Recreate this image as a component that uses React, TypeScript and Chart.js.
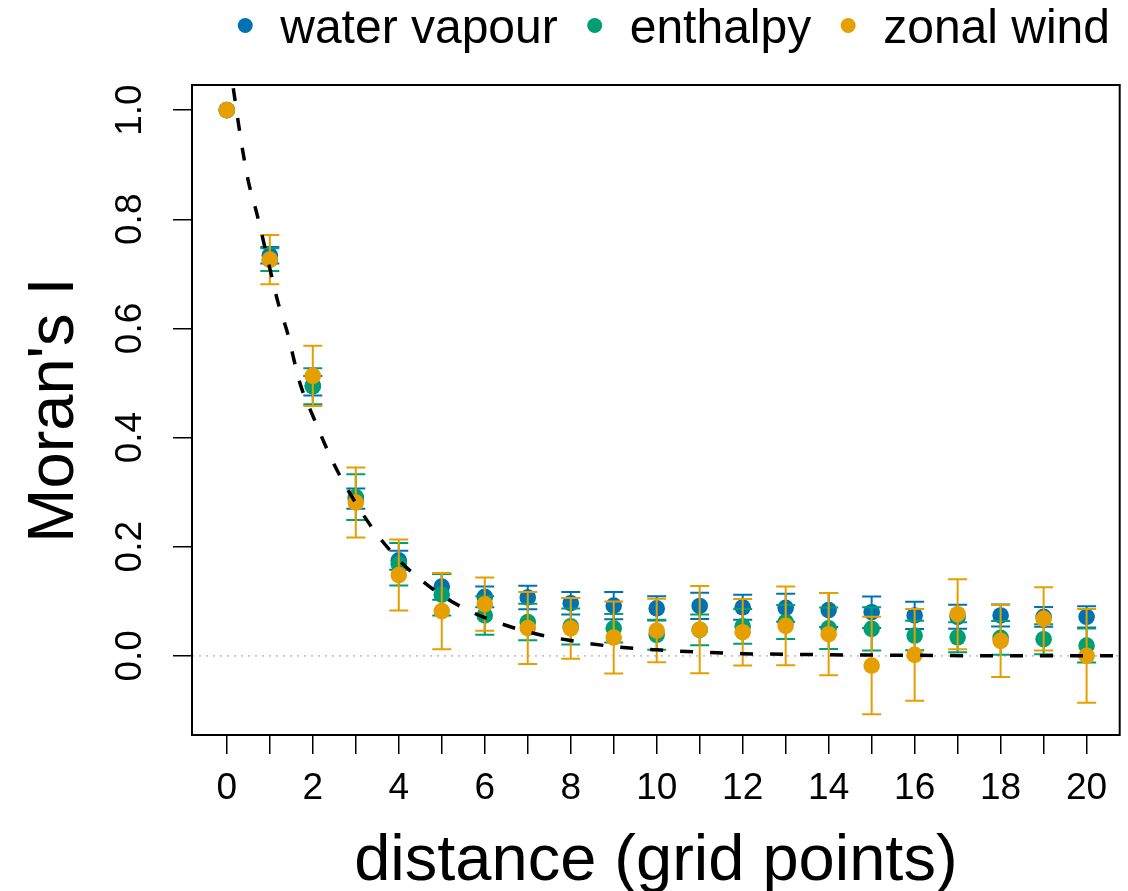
import React, { useEffect, useRef } from "react";
import { Chart, registerables } from "chart.js";

Chart.register(...registerables);

// Lag distance in grid points
const distances = [0, 1, 2, 3, 4, 5, 6, 7, 8, 9, 10, 11, 12, 13, 14, 15, 16, 17, 18, 19, 20];

// Moran's I per variable, with the half-width of each error bar
const waterVapour = [1.0, 0.734, 0.495, 0.288, 0.175, 0.127, 0.108, 0.107, 0.0965, 0.092, 0.087, 0.0915, 0.089, 0.088, 0.084, 0.08, 0.074, 0.0715, 0.074, 0.0715, 0.0715];
const waterVapourErr = [0, 0.015, 0.018, 0.0185, 0.0174, 0.024, 0.019, 0.0217, 0.0207, 0.025, 0.0223, 0.024, 0.023, 0.0256, 0.031, 0.029, 0.025, 0.022, 0.02, 0.018, 0.0195];

const enthalpy = [1.0, 0.726, 0.494, 0.291, 0.168, 0.112, 0.074, 0.062, 0.054, 0.0505, 0.0385, 0.0476, 0.054, 0.062, 0.0505, 0.0495, 0.0372, 0.034, 0.033, 0.0305, 0.019];
const enthalpyErr = [0, 0.021, 0.033, 0.042, 0.039, 0.038, 0.0354, 0.0333, 0.033, 0.026, 0.0275, 0.028, 0.032, 0.031, 0.038, 0.0397, 0.027, 0.0275, 0.031, 0.0275, 0.031];

const zonalWind = [1.0, 0.726, 0.513, 0.281, 0.148, 0.082, 0.0946, 0.051, 0.0505, 0.0336, 0.0464, 0.048, 0.0433, 0.055, 0.0397, -0.0177, 0.0018, 0.0763, 0.0275, 0.0678, 0.0];
const zonalWindErr = [0, 0.045, 0.055, 0.064, 0.065, 0.07, 0.0488, 0.066, 0.0556, 0.066, 0.0583, 0.08, 0.061, 0.072, 0.0754, 0.0894, 0.084, 0.064, 0.066, 0.058, 0.086];

// Fitted exponential decay curve (dashed)
const fitDistance = [0.15, 0.35, 0.5, 0.7, 1, 1.2, 1.4, 1.7, 2, 2.5, 3, 3.5, 4, 4.5, 5, 5.5, 6, 7, 8, 9, 10, 11, 12, 13, 14, 16, 18, 20.77];
const fitMoran = [1.04, 0.935, 0.87, 0.81, 0.71, 0.645, 0.595, 0.5, 0.44, 0.35, 0.28, 0.222, 0.176, 0.14, 0.111, 0.088, 0.07, 0.044, 0.028, 0.017, 0.011, 0.007, 0.004, 0.003, 0.002, 0.001, 0.0, 0.0];

// Axis ticks
const xTicks = [0, 1, 2, 3, 4, 5, 6, 7, 8, 9, 10, 11, 12, 13, 14, 15, 16, 17, 18, 19, 20];
const xLabelStep = 2;
const yTicks = [0, 0.2, 0.4, 0.6, 0.8, 1.0];

const X_MIN = -0.81;
const X_MAX = 20.77;
const Y_MIN = -0.145;
const Y_MAX = 1.046;

const BLUE = "#0072B2";
const GREEN = "#009E73";
const ORANGE = "#E69F00";
const FONT = "'Liberation Sans', Arial, Helvetica, sans-serif";

const toPoints = (xs: number[], ys: number[]) => xs.map((x, i) => ({ x, y: ys[i] }));

// Vertical error bars with caps, drawn just beneath each series' points
const errorBarsPlugin = {
  id: "errorBars",
  beforeDatasetDraw(chart: any, args: any) {
    const ds = chart.data.datasets[args.index];
    if (!ds.errors) return;
    const xs = chart.scales.x;
    const ys = chart.scales.y;
    const ctx = chart.ctx;
    ctx.save();
    ctx.strokeStyle = ds.backgroundColor;
    ctx.lineWidth = 2;
    ctx.lineCap = "butt";
    ds.data.forEach((p: any, i: number) => {
      const e = ds.errors[i];
      if (!e) return;
      const px = xs.getPixelForValue(p.x);
      const top = ys.getPixelForValue(p.y + e);
      const bot = ys.getPixelForValue(p.y - e);
      const cap = 9.5;
      ctx.beginPath();
      ctx.moveTo(px, top);
      ctx.lineTo(px, bot);
      ctx.moveTo(px - cap, top);
      ctx.lineTo(px + cap, top);
      ctx.moveTo(px - cap, bot);
      ctx.lineTo(px + cap, bot);
      ctx.stroke();
    });
    ctx.restore();
  },
};

// Plot frame, axis titles and the horizontal legend
const framePlugin = {
  id: "frame",
  afterDraw(chart: any) {
    const { ctx, chartArea } = chart;
    const { left, right, top, bottom } = chartArea;
    ctx.save();
    ctx.strokeStyle = "#000";
    ctx.lineWidth = 2;
    ctx.strokeRect(left, top, right - left, bottom - top);

    ctx.fillStyle = "#000";
    ctx.font = `65px ${FONT}`;
    ctx.textAlign = "center";
    ctx.textBaseline = "alphabetic";
    ctx.fillText("distance (grid points)", (left + right) / 2, 880);

    ctx.save();
    ctx.translate(73, (top + bottom) / 2);
    ctx.rotate(-Math.PI / 2);
    ctx.fillText("Moran's I", 0, 0);
    ctx.restore();

    // legend, right aligned
    ctx.font = `48px ${FONT}`;
    ctx.textAlign = "left";
    const series = chart.data.datasets.filter((d: any) => d.errors);
    const dotGap = 35;
    const itemGap = 37;
    let x = 1110;
    const placed: { label: string; color: string; tx: number; dx: number }[] = [];
    for (let i = series.length - 1; i >= 0; i--) {
      const w = ctx.measureText(series[i].label).width;
      const tx = x - w;
      const dx = tx - dotGap;
      placed.push({ label: series[i].label, color: series[i].backgroundColor, tx, dx });
      x = dx - itemGap;
    }
    placed.forEach((p) => {
      ctx.fillStyle = p.color;
      ctx.beginPath();
      ctx.arc(p.dx, 25.5, 7.5, 0, Math.PI * 2);
      ctx.fill();
      ctx.fillStyle = "#000";
      ctx.fillText(p.label, p.tx, 43);
    });
    ctx.restore();
  },
};

export default function App() {
  const canvasRef = useRef<HTMLCanvasElement | null>(null);

  useEffect(() => {
    if (!canvasRef.current) return;
    const seriesDataset = (label: string, ys: number[], errs: number[], color: string, order: number) => ({
      type: "scatter" as const,
      label,
      data: toPoints(distances, ys),
      errors: errs,
      backgroundColor: color,
      borderColor: color,
      pointRadius: 8.3,
      pointBorderWidth: 0,
      pointHoverRadius: 8.3,
      showLine: false,
      order,
    });

    const chart = new Chart(canvasRef.current, {
      type: "scatter",
      data: {
        datasets: [
          {
            type: "line",
            label: "fit",
            data: toPoints(fitDistance, fitMoran),
            borderColor: "#000",
            borderWidth: 3.5,
            borderDash: [13, 17],
            pointRadius: 0,
            fill: false,
            cubicInterpolationMode: "monotone",
            order: 0,
          } as any,
          seriesDataset("water vapour", waterVapour, waterVapourErr, BLUE, 3),
          seriesDataset("enthalpy", enthalpy, enthalpyErr, GREEN, 2),
          seriesDataset("zonal wind", zonalWind, zonalWindErr, ORANGE, 1),
          {
            type: "line",
            label: "zero",
            data: [
              { x: X_MIN, y: 0 },
              { x: X_MAX, y: 0 },
            ],
            borderColor: "#c4c4c4",
            borderWidth: 1.8,
            borderDash: [2, 5],
            pointRadius: 0,
            fill: false,
            order: 10,
          } as any,
        ],
      },
      options: {
        animation: false,
        responsive: false,
        events: [],
        layout: { padding: { top: 85, right: 4, bottom: 0, left: 0 } },
        plugins: {
          legend: { display: false },
          tooltip: { enabled: false },
          title: { display: false },
        },
        scales: {
          x: {
            type: "linear",
            min: X_MIN,
            max: X_MAX,
            afterBuildTicks: (scale: any) => {
              scale.ticks = xTicks.map((value) => ({ value }));
            },
            afterFit: (scale: any) => {
              scale.height = 156;
            },
            ticks: {
              font: { family: FONT, size: 37 },
              color: "#000",
              padding: 13,
              maxRotation: 0,
              minRotation: 0,
              autoSkip: false,
              callback: (v: any) => (Number(v) % xLabelStep === 0 ? String(v) : ""),
            },
            grid: {
              display: true,
              drawOnChartArea: false,
              drawTicks: true,
              tickLength: 19,
              color: "#000",
              lineWidth: 1.5,
            },
            border: { display: false },
          },
          y: {
            type: "linear",
            min: Y_MIN,
            max: Y_MAX,
            afterBuildTicks: (scale: any) => {
              scale.ticks = yTicks.map((value) => ({ value }));
            },
            afterFit: (scale: any) => {
              scale.width = 192;
            },
            ticks: {
              font: { family: FONT, size: 37 },
              color: "#000",
              padding: 16,
              minRotation: 90,
              maxRotation: 90,
              crossAlign: "center",
              autoSkip: false,
              callback: (v: any) => Number(v).toFixed(1),
            },
            grid: {
              display: true,
              drawOnChartArea: false,
              drawTicks: true,
              tickLength: 19,
              color: "#000",
              lineWidth: 1.5,
            },
            border: { display: false },
          },
        },
      } as any,
      plugins: [errorBarsPlugin, framePlugin],
    });

    return () => chart.destroy();
  }, []);

  return (
    <div style={{ position: "absolute", left: 0, top: 0, width: 1128, height: 891, background: "#fff" }}>
      <canvas ref={canvasRef} width={1128} height={891} style={{ display: "block" }} />
    </div>
  );
}
